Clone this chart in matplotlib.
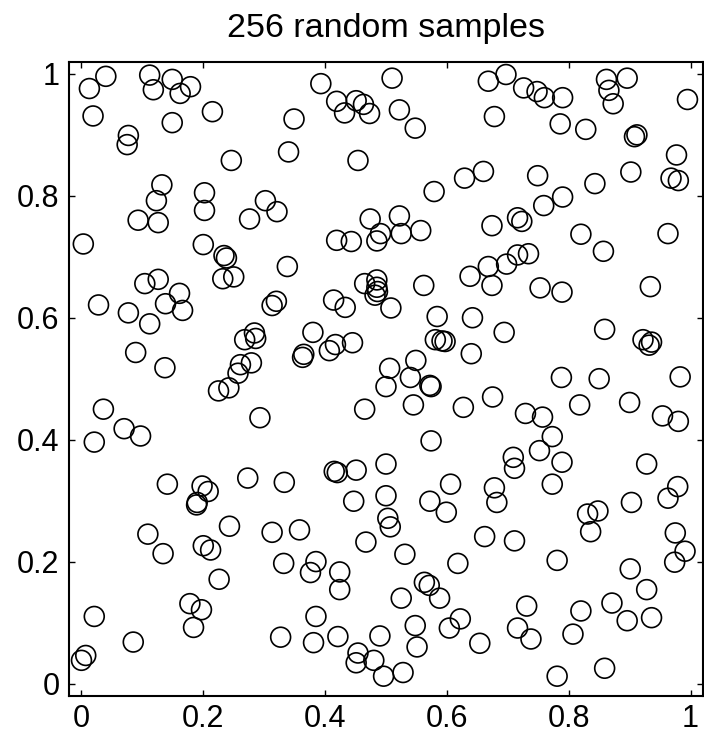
import matplotlib
matplotlib.use("Agg")
import matplotlib.pyplot as plt
from matplotlib.ticker import FixedLocator, FixedFormatter

x = [0.013, 0.040, 0.112, 0.118, 0.149, 0.162, 0.179, 0.019, 0.149, 0.215,
     0.077, 0.075, 0.246, 0.132, 0.123, 0.202, 0.202, 0.093, 0.126, 0.302,
     0.321, 0.276, 0.003, 0.200, 0.234, 0.238,
     0.393, 0.510, 0.668, 0.419, 0.451, 0.432, 0.463, 0.473, 0.522, 0.548,
     0.349, 0.340, 0.454, 0.678, 0.579, 0.629, 0.660, 0.474, 0.522, 0.491,
     0.525, 0.557, 0.419, 0.443, 0.485, 0.674, 0.338,
     0.697, 0.726, 0.748, 0.760, 0.790, 0.862, 0.896, 0.866, 0.873, 0.995,
     0.786, 0.828, 0.912, 0.908, 0.977, 0.749, 0.843, 0.902, 0.968, 0.980,
     0.759, 0.790, 0.716, 0.723, 0.820, 0.963, 0.857, 0.668, 0.698, 0.716, 0.734,
     0.104, 0.126, 0.028, 0.077, 0.138, 0.161, 0.166, 0.112, 0.089, 0.137,
     0.232, 0.250, 0.313, 0.320, 0.268, 0.284, 0.286, 0.261, 0.279, 0.257,
     0.225, 0.242, 0.293, 0.036, 0.070, 0.097, 0.021,
     0.465, 0.485, 0.485, 0.486, 0.482, 0.562, 0.638, 0.674, 0.414, 0.433,
     0.508, 0.584, 0.642, 0.380, 0.365, 0.363, 0.407, 0.417, 0.445, 0.581,
     0.592, 0.597, 0.640, 0.549, 0.506, 0.540, 0.500, 0.572, 0.574, 0.545,
     0.627, 0.675, 0.465, 0.574, 0.500, 0.415, 0.420, 0.451, 0.333, 0.606,
     0.753, 0.789, 0.934, 0.694, 0.859, 0.922, 0.936, 0.932, 0.788, 0.850,
     0.983, 0.729, 0.757, 0.818, 0.900, 0.954, 0.980, 0.773, 0.752, 0.709,
     0.711, 0.789, 0.928,
     0.141, 0.198, 0.208, 0.190, 0.189, 0.273, 0.109, 0.134, 0.200, 0.212,
     0.243, 0.313, 0.226, 0.178, 0.197, 0.184, 0.021, 0.085, 0.007, 0.000, 0.327,
     0.447, 0.500, 0.503, 0.507, 0.572, 0.599, 0.678, 0.682, 0.358, 0.467,
     0.531, 0.662, 0.332, 0.385, 0.376, 0.424, 0.424, 0.618, 0.563, 0.571,
     0.588, 0.525, 0.385, 0.381, 0.421, 0.490, 0.548, 0.551, 0.604, 0.622,
     0.654, 0.454, 0.451, 0.480, 0.496, 0.528,
     0.773, 0.979, 0.963, 0.903, 0.831, 0.848, 0.836, 0.975, 0.991, 0.974,
     0.711, 0.781, 0.901, 0.928, 0.871, 0.896, 0.936, 0.731, 0.716, 0.738,
     0.820, 0.807, 0.781, 0.859]

y = [0.976, 0.996, 0.998, 0.974, 0.991, 0.968, 0.979, 0.931, 0.920, 0.938,
     0.899, 0.884, 0.858, 0.818, 0.792, 0.805, 0.776, 0.760, 0.756, 0.792,
     0.774, 0.762, 0.721, 0.720, 0.702, 0.698,
     0.984, 0.993, 0.988, 0.955, 0.956, 0.936, 0.950, 0.935, 0.941, 0.911,
     0.926, 0.872, 0.858, 0.930, 0.807, 0.829, 0.840, 0.762, 0.767, 0.738,
     0.738, 0.743, 0.727, 0.725, 0.726, 0.751, 0.684,
     0.999, 0.977, 0.971, 0.961, 0.961, 0.991, 0.993, 0.973, 0.951, 0.958,
     0.918, 0.909, 0.900, 0.897, 0.867, 0.833, 0.820, 0.839, 0.829, 0.825,
     0.784, 0.798, 0.764, 0.758, 0.737, 0.738, 0.709, 0.684, 0.688, 0.703, 0.705,
     0.656, 0.663, 0.621, 0.608, 0.623, 0.640, 0.612, 0.590, 0.543, 0.518,
     0.664, 0.667, 0.620, 0.627, 0.564, 0.575, 0.566, 0.523, 0.526, 0.509,
     0.480, 0.485, 0.436, 0.450, 0.418, 0.406, 0.396,
     0.656, 0.662, 0.650, 0.643, 0.637, 0.653, 0.668, 0.653, 0.629, 0.617,
     0.616, 0.602, 0.600, 0.576, 0.540, 0.535, 0.546, 0.556, 0.559, 0.564,
     0.562, 0.561, 0.541, 0.530, 0.517, 0.502, 0.487, 0.489, 0.487, 0.457,
     0.453, 0.470, 0.450, 0.398, 0.360, 0.348, 0.346, 0.350, 0.330, 0.327,
     0.649, 0.642, 0.651, 0.576, 0.581, 0.564, 0.560, 0.555, 0.502, 0.500,
     0.503, 0.443, 0.437, 0.457, 0.461, 0.439, 0.430, 0.405, 0.382, 0.371,
     0.353, 0.363, 0.360,
     0.327, 0.324, 0.315, 0.297, 0.293, 0.337, 0.245, 0.213, 0.226, 0.219,
     0.258, 0.248, 0.171, 0.131, 0.121, 0.092, 0.110, 0.068, 0.046, 0.038, 0.076,
     0.299, 0.308, 0.271, 0.257, 0.299, 0.281, 0.321, 0.297, 0.252, 0.232,
     0.212, 0.241, 0.197, 0.200, 0.182, 0.183, 0.154, 0.197, 0.166, 0.161,
     0.140, 0.140, 0.110, 0.067, 0.077, 0.078, 0.095, 0.060, 0.091, 0.106,
     0.066, 0.050, 0.034, 0.038, 0.012, 0.018,
     0.327, 0.323, 0.304, 0.297, 0.278, 0.283, 0.249, 0.247, 0.217, 0.199,
     0.234, 0.202, 0.188, 0.154, 0.132, 0.103, 0.108, 0.127, 0.091, 0.073,
     0.119, 0.081, 0.012, 0.025]

title = "256 random samples"
tick_values = [0, 0.2, 0.4, 0.6, 0.8, 1]
tick_labels = ["0", "0.2", "0.4", "0.6", "0.8", "1"]

plt.rcParams['font.family'] = ['Liberation Sans', 'DejaVu Sans']

fig = plt.figure(figsize=(7.04, 7.45), dpi=100)
ax = fig.add_axes([69.3 / 704, 49.3 / 745, 633.4 / 704, 634.0 / 745])
ax.scatter(x, y, s=14.3 ** 2, facecolors='none', edgecolors='black', linewidths=1.2)
ax.set_xlim(-0.02, 1.02)
ax.set_ylim(-0.02, 1.02)
for axis in (ax.xaxis, ax.yaxis):
    axis.set_major_locator(FixedLocator(tick_values))
    axis.set_major_formatter(FixedFormatter(tick_labels))
ax.tick_params(direction='in', length=4, width=1.0, top=True, right=True,
               labelsize=22, pad=7)
ax.tick_params(axis='x', pad=6)
for sp in ax.spines.values():
    sp.set_linewidth(1.5)
ax.set_title(title, fontsize=24.5, pad=18)
fig.savefig("out.png", dpi=100)
